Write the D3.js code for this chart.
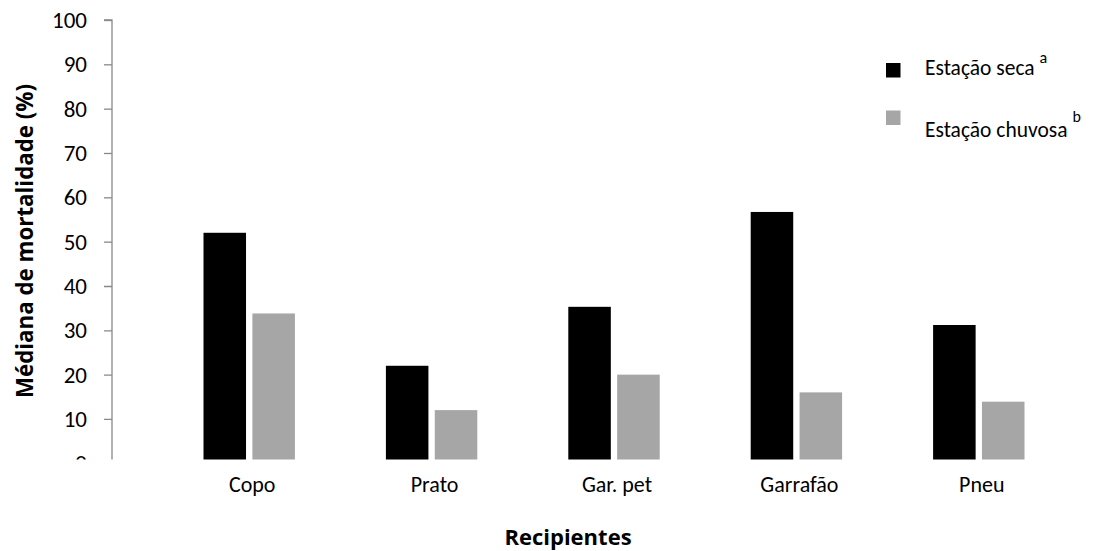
<!DOCTYPE html>
<html>
<head>
<meta charset="utf-8">
<script src="https://cdn.jsdelivr.net/npm/d3@7"></script>
<style>
  html, body { margin: 0; padding: 0; background: #fff; }
  svg { display: block; font-family: Carlito, Calibri, Lato, sans-serif; }
  .title { font-family: "Open Sans", sans-serif; font-weight: bold; }
</style>
</head>
<body>
<svg id="chart" width="1104" height="551"></svg>
<script>
// Median mortality (%) by container type, dry vs rainy season
const categories = ["Copo", "Prato", "Gar. pet", "Garrafão", "Pneu"];
const seriesNames = ["Estação seca", "Estação chuvosa"];
const seriesSup = ["a", "b"];
const seca = [52, 22, 35.3, 56.7, 31.2];
const chuvosa = [33.8, 12, 20, 16, 13.9];
const yTicks = [0, 10, 20, 30, 40, 50, 60, 70, 80, 90, 100];
const colors = ["#000000", "#a6a6a6"];

const svg = d3.select("#chart");

const y = d3.scaleLinear().domain([0, 100]).range([463.3, 20]);
const x0 = d3.scaleBand().domain(categories).range([158, 1070]).padding(0);
const x1 = d3.scaleBand().domain(seriesNames).range([-45.7, 45.7]).paddingInner(0.13);

// plot region is cut just above the zero line
svg.append("defs").append("clipPath").attr("id", "plotClip")
  .append("rect").attr("x", 0).attr("y", 0).attr("width", 1104).attr("height", 459.5);

const plot = svg.append("g").attr("clip-path", "url(#plotClip)");

// Y axis
const yAxis = d3.axisLeft(y).tickValues(yTicks).tickSize(8).tickPadding(17).tickFormat(d3.format("d"));
const gy = plot.append("g").attr("transform", "translate(112,0)").call(yAxis);
gy.select(".domain").attr("stroke", "#888").attr("stroke-width", 1.3).attr("d", `M-8,${y(100)}H0V${y(0)}`);
gy.selectAll(".tick line").attr("stroke", "#888").attr("stroke-width", 1.3);
gy.selectAll(".tick text").attr("fill", "#000").style("font-size", "23px")
  .style("font-family", "Carlito, Calibri, Lato, sans-serif");

// Bars
const rows = categories.map((c, i) => ({ cat: c, vals: [seca[i], chuvosa[i]] }));
const groups = plot.selectAll("g.grp").data(rows).join("g")
  .attr("class", "grp")
  .attr("transform", d => `translate(${x0(d.cat) + x0.bandwidth() / 2},0)`);
groups.selectAll("rect").data(d => d.vals.map((v, k) => ({ v, k }))).join("rect")
  .attr("x", d => x1(seriesNames[d.k]))
  .attr("width", x1.bandwidth())
  .attr("y", d => y(d.v))
  .attr("height", d => y(0) - y(d.v))
  .attr("fill", d => colors[d.k]);

// Category labels
svg.append("g").selectAll("text").data(categories).join("text")
  .attr("x", d => x0(d) + x0.bandwidth() / 2 + 3)
  .attr("y", 491.5)
  .attr("text-anchor", "middle")
  .style("font-size", "22px")
  .text(d => d);

// Axis titles
svg.append("text").attr("class", "title")
  .attr("x", 568).attr("y", 545)
  .attr("text-anchor", "middle")
  .style("font-size", "22px")
  .text("Recipientes");

svg.append("text").attr("class", "title")
  .attr("transform", "translate(33,241) rotate(-90)")
  .attr("text-anchor", "middle")
  .style("font-size", "22.3px")
  .text("Médiana de mortalidade (%)");

// Legend
const legend = svg.append("g");
const legendRows = [
  { sq: 63, base: 75, supDy: -12 },
  { sq: 110.5, base: 136.7, supDy: -15 }
];
seriesNames.forEach((name, i) => {
  legend.append("rect")
    .attr("x", 886).attr("y", legendRows[i].sq)
    .attr("width", 14.5).attr("height", 14.5)
    .attr("fill", colors[i]);
  const t = legend.append("text")
    .attr("x", 925).attr("y", legendRows[i].base)
    .style("font-size", "21.5px");
  t.append("tspan").text(name + " ");
  t.append("tspan").attr("dy", legendRows[i].supDy).style("font-size", "16px").text(seriesSup[i]);
});
</script>
</body>
</html>
